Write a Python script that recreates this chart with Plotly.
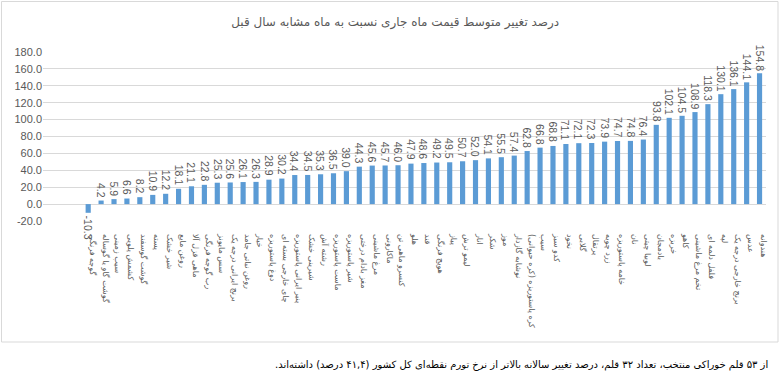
import plotly.graph_objects as go

categories = [
    "گوجه فرنگی", "گوشت گاو یا گوساله", "سیب زمینی", "کشمش پلویی", "گوشت گوسفند",
    "پسته", "شیر خشک", "روغن مایع", "ماهی قزل آلا", "رب گوجه فرنگی",
    "سس مایونز", "برنج ایرانی درجه یک", "روغن نباتی جامد", "خیار", "دوغ پاستوریزه",
    "چای خارجی بسته ای", "پنیر ایرانی پاستوریزه", "شیرینی خشک", "رشته آش", "ماست پاستوریزه",
    "شیر پاستوریزه", "مغز بادام درختی", "مرغ ماشینی", "ماکارونی", "کنسرو ماهی تن",
    "هلو", "قند", "هویج فرنگی", "پیاز", "لیمو ترش",
    "انار", "شکر", "موز", "نوشابه گازدار", "کره پاستوریزه (کره حیوانی)",
    "سیب", "کدو سبز", "نخود", "گلابی", "پرتقال",
    "زرد چوبه", "خامه پاستوریزه", "نان", "لوبیا چیتی", "بادمجان",
    "خربزه", "کاهو", "تخم مرغ ماشینی", "فلفل دلمه ای", "لپه",
    "برنج خارجی درجه یک", "عدس", "هندوانه",
]
values = [
    -10.3, 4.2, 5.9, 6.6, 8.2, 10.9, 12.2, 18.1, 21.1, 22.8,
    25.3, 25.6, 26.1, 26.3, 28.9, 30.2, 34.4, 34.5, 35.3, 36.5,
    39.0, 44.3, 45.6, 45.7, 46.0, 47.9, 48.6, 49.2, 49.5, 50.7,
    52.0, 54.1, 55.5, 57.4, 62.8, 66.8, 68.8, 71.1, 72.1, 72.3,
    73.9, 74.7, 74.8, 76.4, 93.8, 102.1, 104.5, 108.9, 118.3, 130.1,
    136.1, 144.1, 154.8,
]
y_ticks = [-20, 0, 20, 40, 60, 80, 100, 120, 140, 160, 180]
title_text = "درصد تغییر متوسط قیمت ماه جاری نسبت به ماه مشابه سال قبل"
note_text = "\u200fاز ۵۳ قلم خوراکی منتخب، تعداد ۳۲ قلم، درصد تغییر سالانه بالاتر از نرخ تورم نقطه‌ای کل کشور (۴۱,۴ درصد) داشته‌اند.\u200f"

idx = list(range(len(categories)))

W, H = 781, 377
L, R, T, B = 43, 15, 52, 156
pw, ph = W - L - R, H - T - B

def px_x(x):
    return (x - L) / pw

def px_y(y):  # y in pixels from the top of the page
    return (H - B - y) / ph

fig = go.Figure()
fig.add_trace(go.Bar(
    x=idx, y=values,
    marker=dict(color="#5B9BD5", line=dict(width=0)),
    width=0.4,
    hoverinfo="x+y",
))

label_annots = []
for i, v in zip(idx, values):
    label_annots.append(dict(
        x=i, y=v, xref="x", yref="y", text=f"{v:.1f}", textangle=90,
        showarrow=False, xanchor="center",
        yanchor="bottom" if v >= 0 else "top",
        yshift=1 if v >= 0 else -1,
        font=dict(family="Liberation Sans", size=10.5, color="#595959"),
    ))

fig.update_layout(
    width=W, height=H,
    margin=dict(l=L, r=R, t=T, b=B, autoexpand=False),
    paper_bgcolor="white", plot_bgcolor="white",
    showlegend=False,
    title=dict(text=title_text, x=0.506, xanchor="center", y=1 - 22 / H, yanchor="middle",
               font=dict(family="DejaVu Sans", size=12, color="#595959")),
    xaxis=dict(
        tickmode="array", tickvals=idx, ticktext=categories,
        range=[-3.5, len(categories) - 0.5],
        tickangle=90, showgrid=False, zeroline=False, showline=False, ticks="",
        automargin=False, ticklabelstandoff=12, ticklabelshift=4,
        tickfont=dict(family="DejaVu Sans", size=8, color="#595959"),
    ),
    yaxis=dict(
        range=[-20, 180], tickvals=y_ticks, ticktext=[f"{t:.1f}" for t in y_ticks],
        showgrid=True, gridcolor="#D9D9D9", gridwidth=1,
        zeroline=True, zerolinecolor="#D9D9D9", zerolinewidth=1,
        showline=False, ticks="", automargin=False,
        tickfont=dict(family="Liberation Sans", size=11, color="#595959"),
    ),
    shapes=[dict(type="rect", xref="paper", yref="paper",
                 x0=px_x(1.5), x1=px_x(778), y0=px_y(342), y1=px_y(1.5),
                 line=dict(color="#D9D9D9", width=1), fillcolor="rgba(0,0,0,0)", layer="below")],
    annotations=label_annots + [dict(text=note_text, xref="paper", yref="paper",
                      x=px_x(770), y=px_y(365), xanchor="right", yanchor="middle",
                      showarrow=False,
                      font=dict(family="DejaVu Sans", size=10, color="#000000"))],
)

fig.write_html("out.html", config={"displayModeBar": False},
               post_script="document.body.style.margin='0px';")
